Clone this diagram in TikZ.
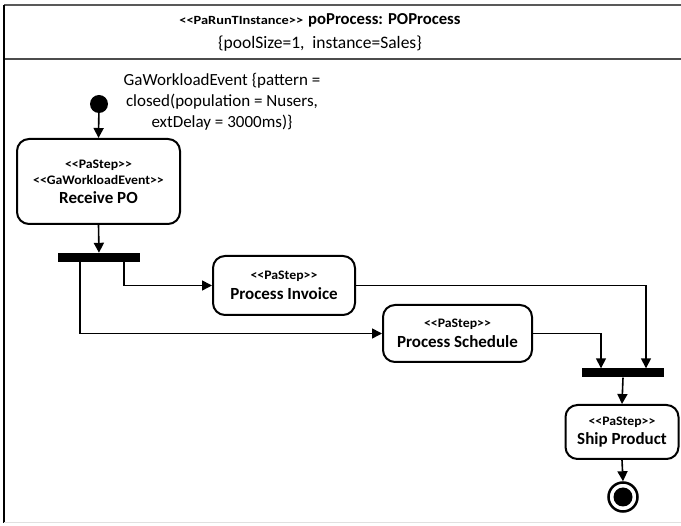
\documentclass[tikz,border=0pt]{standalone}
\usepackage{fontspec}
\setmainfont{Carlito}
\newfontfamily\stereofont{Carlito}[FakeStretch=1.06]
\newfontfamily\headstereofont{Carlito}[FakeStretch=1.15]
\usetikzlibrary{arrows.meta}
% stereotype brackets typed as two separate characters
\newcommand\stL{<\kern0pt<}
\newcommand\stR{>\kern0pt>}
\newcommand\stereo[1]{{\stereofont\bfseries\fontsize{13}{15}\selectfont\stL#1\stR}}
\newcommand\aname[1]{{\bfseries\fontsize{17}{20}\selectfont#1}}
\begin{document}
\begin{tikzpicture}[x=1pt,y=-1pt,
  action/.style={draw,line width=2pt,rounded corners=12pt,fill=white,align=center,inner sep=0pt},
  bar/.style={fill=black,draw=none,minimum width=82pt,minimum height=9pt,inner sep=0pt},
  flow/.style={line width=1.6pt,-{Triangle[length=10pt,width=10pt]}}]
\useasboundingbox (0,0) rectangle (681,526);
\fill[white] (0,0) rectangle (681,526);
% frame of the run-time instance
\draw[line width=1.5pt,black!65] (4,5) -- (681,5);
\draw[line width=1.5pt,black!70] (4,59) -- (681,59);
\draw[line width=1.8pt,black] (4,5) -- (4,523);
\draw[line width=1pt,black!12] (4,523) -- (681,523);
\node (title) at (320,20) {{\headstereofont\bfseries\fontsize{12.5}{14}\selectfont\stL PaRunTInstance\stR}\hspace{5pt}{\bfseries\fontsize{16.7}{19}\selectfont poProcess: POProcess}};
\node (props) at (320,44) {\fontsize{17.5}{20}\selectfont \{poolSize=1,\ \ instance=Sales\}};
% workload annotation
\node[align=center,font=\fontsize{17}{21}\selectfont] (wl) at (222,102)
  {GaWorkloadEvent \{pattern =\\closed(population = Nusers,\\extDelay = 3000ms)\}};
% activity nodes
\node[circle,fill=black,minimum size=18pt,inner sep=0pt] (init) at (99,104) {};
\node[action,minimum width=163pt,minimum height=85pt] (receive) at (98.5,181.5)
  {\stereo{PaStep}\\[4pt]\stereo{GaWorkloadEvent}\\[6pt]\aname{Receive PO}};
\node[bar] (fork) at (99,257.5) {};
\node[action,minimum width=142pt,minimum height=59pt] (invoice) at (284,285.5)
  {\stereo{PaStep}\\[5pt]\aname{Process Invoice}};
\node[action,minimum width=149pt,minimum height=57pt] (schedule) at (457.5,333.5)
  {\stereo{PaStep}\\[5pt]\aname{Process Schedule}};
\node[bar] (join) at (623,373) {};
\node[action,minimum width=113pt,minimum height=54pt] (ship) at (622,432)
  {\stereo{PaStep}\\[4pt]\aname{Ship Product}};
\node[circle,draw=black,line width=2.5pt,minimum size=29pt,inner sep=0pt] (final) at (623,497) {};
\fill[black] (final.center) circle (9.5pt);
% control flow
\draw[flow] (init) -- (receive.north);
\draw[flow] (receive.south) -- (fork.north);
\draw[flow] ([xshift=25pt]fork.south) |- (invoice.west);
\draw[flow] ([xshift=-19pt]fork.south) |- (schedule.west);
\draw[flow] (invoice.east) -| ([xshift=23pt]join.north);
\draw[flow] (schedule.east) -| ([xshift=-22pt]join.north);
\draw[flow] (join.south) -- (ship.north);
\draw[flow] (ship.south) -- (final.north);
\end{tikzpicture}
\end{document}
